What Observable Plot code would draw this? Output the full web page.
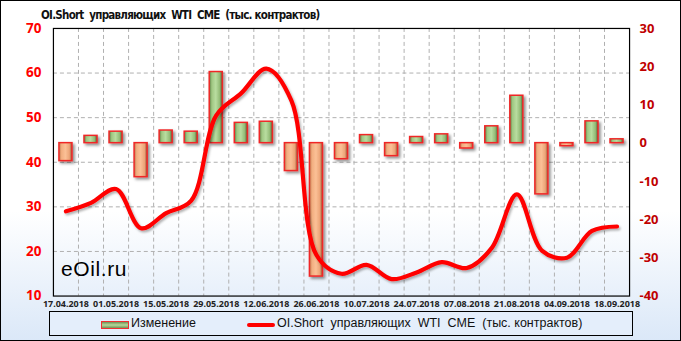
<!DOCTYPE html>
<html><head><meta charset="utf-8">
<script src="https://cdn.jsdelivr.net/npm/d3@7"></script>
<script src="https://cdn.jsdelivr.net/npm/@observablehq/plot@0.6"></script>
<style>
html,body{margin:0;padding:0;background:#fff;}
#wrap{position:relative;width:681px;height:341px;box-sizing:border-box;border:1px solid #000;
 background:linear-gradient(to bottom,#ffffff 0%,#ffffff 62%,#dbe8f8 100%);overflow:hidden;font-family:"Liberation Sans",Arial,sans-serif;}
#chart{position:absolute;left:-1px;top:-1px;}
#title{position:absolute;left:40px;top:7px;font:bold 11.5px "DejaVu Sans Condensed","DejaVu Sans",sans-serif;letter-spacing:-0.75px;white-space:pre;color:#111;}
#wm{position:absolute;left:60px;top:256px;font:21px "Liberation Sans",Arial,sans-serif;color:#000;letter-spacing:0.6px;}
#legend{position:absolute;left:48px;top:310px;width:584px;height:25px;box-sizing:border-box;border:1px solid #000;background:#e4eefb;font-size:12.5px;color:#111;}
.sw{position:absolute;}
.lt{position:absolute;top:4px;white-space:pre;}
</style></head>
<body>
<div id="wrap">
 <div id="chart"></div>
 <div id="title">OI.Short  управляющих  WTI  CME  (тыс. контрактов)</div>
 <div id="wm">eOil.ru</div>
 <div id="legend">
  <div class="sw" style="left:51px;top:9px;width:26px;height:6px;border:1.5px solid #f03030;background:linear-gradient(to bottom,#6f8f55,#b5d99a,#6f8f55);box-sizing:content-box;"></div>
  <div class="lt" style="left:81px;">Изменение</div>
  <div class="sw" style="left:197px;top:11px;width:28px;height:3.5px;background:#ff0000;border-radius:2px;"></div>
  <div class="lt" style="left:227px;">OI.Short  управляющих  WTI  CME  (тыс. контрактов)</div>
 </div>
</div>
<script>
const dates = ["17.04.2018","24.04.2018","01.05.2018","08.05.2018","15.05.2018","22.05.2018","29.05.2018","05.06.2018","12.06.2018","19.06.2018","26.06.2018","03.07.2018","10.07.2018","17.07.2018","24.07.2018","31.07.2018","07.08.2018","14.08.2018","21.08.2018","28.08.2018","04.09.2018","11.09.2018","18.09.2018"];
const change = [-4.7, 1.9, 3.0, -8.9, 3.3, 3.0, 18.6, 5.3, 5.6, -7.3, -34.9, -4.2, 2.1, -3.4, 1.6, 2.3, -1.4, 4.4, 12.4, -13.4, -0.8, 5.7, 1.0];
const shortOI = [29.0, 30.9, 34.0, 25.2, 28.6, 31.4, 50.5, 55.5, 61.0, 53.8, 19.2, 15.0, 17.0, 13.8, 15.3, 17.6, 16.3, 20.8, 32.8, 20.2, 18.6, 24.6, 25.6];
const leftTicks = [10, 20, 30, 40, 50, 60, 70];
const rightTicks = [-40, -30, -20, -10, 0, 10, 20, 30];
const leftDomain = [10, 70];
const rightDomain = [-40, 30];

const toRight = v => rightDomain[0] + (v - leftDomain[0]) * (rightDomain[1] - rightDomain[0]) / (leftDomain[1] - leftDomain[0]);
const fromRight = r => Math.round(leftDomain[0] + (r - rightDomain[0]) * (leftDomain[1] - leftDomain[0]) / (rightDomain[1] - rightDomain[0]));

const data = dates.map((d, i) => ({i, date: d, change: change[i], oi: shortOI[i]}));
const pos = data.filter(d => d.change >= 0);
const neg = data.filter(d => d.change < 0);

const chart = Plot.plot({
  width: 681, height: 312,
  marginLeft: 53, marginRight: 51, marginTop: 28, marginBottom: 16,
  style: {background: "transparent", overflow: "visible"},
  x: {type: "linear", domain: [-0.5, dates.length - 0.5], axis: null, label: null},
  y: {domain: rightDomain, axis: null, label: null},
  marks: [
    Plot.ruleY(leftTicks.slice(1, -1).map(toRight), {stroke: "#b0b0b0", strokeDasharray: "4,3", strokeWidth: 1}),
    Plot.ruleX(data.slice(0, -1), {x: d => d.i + 0.5, stroke: "#b0b0b0", strokeDasharray: "4,3", strokeWidth: 1}),
    Plot.rectY(pos, {x1: d => d.i - 0.5, x2: d => d.i + 0.5, y1: 0, y2: "change", insetLeft: 6, insetRight: 6, fill: "url(#gGreen)", stroke: "#f02828", strokeWidth: 1.5}),
    Plot.rectY(neg, {x1: d => d.i - 0.5, x2: d => d.i + 0.5, y1: 0, y2: "change", insetLeft: 6, insetRight: 6, fill: "url(#gOrange)", stroke: "#f02828", strokeWidth: 1.5}),
    Plot.line(data, {x: "i", y: d => toRight(d.oi), curve: "catmull-rom", stroke: "#ff0000", strokeWidth: 4.2, strokeLinejoin: "round", strokeLinecap: "round"}),
    Plot.frame({stroke: "#000", strokeWidth: 1.2}),
    Plot.axisX({ticks: data.filter(d => d.i % 2 === 0).map(d => d.i), tickFormat: i => dates[i], label: null, tickSize: 0, tickPadding: 5, fontSize: 9, fontWeight: "bold", fill: "#222"}),
    Plot.axisY({anchor: "left", ticks: leftTicks.map(toRight), tickFormat: fromRight, label: null, tickSize: 0, tickPadding: 12, fontSize: 13.5, fontWeight: "bold", fill: "#ff0000"}),
    Plot.axisY({anchor: "right", ticks: rightTicks, tickFormat: d => d, label: null, tickSize: 0, tickPadding: 10, fontSize: 13, fontWeight: "bold", fill: "#c00000", textAnchor: "start"})
  ]
});

const ns = "http://www.w3.org/2000/svg";
const defs = document.createElementNS(ns, "defs");
defs.innerHTML = `
<linearGradient id="gGreen" x1="0" x2="1" y1="0" y2="0">
 <stop offset="0" stop-color="#5b7a42"/><stop offset="0.2" stop-color="#9fc782"/>
 <stop offset="0.5" stop-color="#b9dda0"/><stop offset="0.8" stop-color="#93bb76"/>
 <stop offset="1" stop-color="#4a6434"/></linearGradient>
<linearGradient id="gOrange" x1="0" x2="1" y1="0" y2="0">
 <stop offset="0" stop-color="#b9774d"/><stop offset="0.2" stop-color="#f2ae80"/>
 <stop offset="0.5" stop-color="#fbc096"/><stop offset="0.8" stop-color="#eca477"/>
 <stop offset="1" stop-color="#8f5535"/></linearGradient>
<filter id="shadow" x="-30%" y="-30%" width="160%" height="160%">
 <feDropShadow dx="2" dy="2" stdDeviation="1.5" flood-color="#000" flood-opacity="0.45"/></filter>
<filter id="lshadow" x="-10%" y="-10%" width="120%" height="130%">
 <feDropShadow dx="1.5" dy="2" stdDeviation="1.2" flood-color="#000" flood-opacity="0.3"/></filter>`;
chart.insertBefore(defs, chart.firstChild);
chart.querySelectorAll('g[aria-label="rect"]').forEach(g => g.setAttribute("filter", "url(#shadow)"));
chart.querySelectorAll('g[aria-label="line"]').forEach(g => g.setAttribute("filter", "url(#lshadow)"));
document.getElementById("chart").appendChild(chart);
</script>
</body></html>
